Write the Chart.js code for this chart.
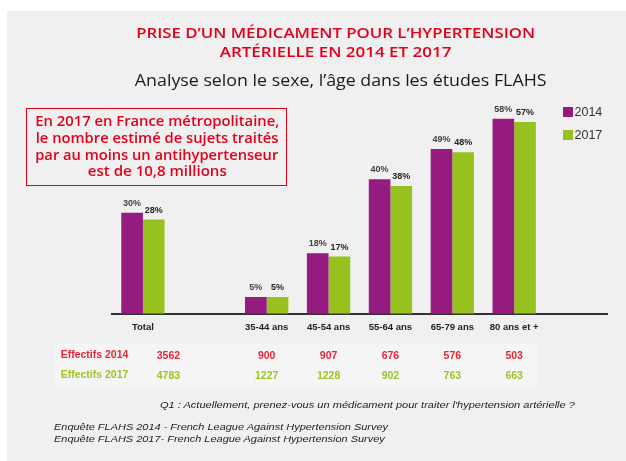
<!DOCTYPE html>
<html><head><meta charset="utf-8">
<script src="https://cdn.jsdelivr.net/npm/chart.js@4"></script>
<style>
html,body{margin:0;padding:0;background:#fff;width:626px;height:461px;overflow:hidden;position:relative;}
#panel{position:absolute;left:7px;top:11px;width:619px;height:450px;background:#f0f0f0;}
#tablebg{position:absolute;left:54px;top:344px;width:484px;height:43px;background:#f5f5f5;}
#box{position:absolute;left:26px;top:108px;width:259px;height:76px;border:1.6px solid #e3001b;}
#wrap{position:absolute;left:0;top:0;width:626px;height:461px;}
.t{position:absolute;white-space:nowrap;}
.sw{position:absolute;width:10px;height:10px;}
</style></head>
<body>
<div id="panel"></div>
<div id="tablebg"></div>
<div id="box"></div>
<div id="wrap"><canvas id="c"></canvas></div>
<script>
// ---- data ----
const categories = ["Total", "", "35-44 ans", "45-54 ans", "55-64 ans", "65-79 ans", "80 ans et +", ""];
const values2014 = [30, null, 5, 18, 40, 49, 58, null];
const values2017 = [28, null, 5, 17, 38, 48, 57, null];
const seriesNames = ["2014", "2017"];
const effectifsLabels = ["Effectifs 2014", "Effectifs 2017"];
const effectifs2014 = [3562, 900, 907, 676, 576, 503];
const effectifs2017 = [4783, 1227, 1228, 902, 763, 663];
const effectifsCats = ["Total", "35-44 ans", "45-54 ans", "55-64 ans", "65-79 ans", "80 ans et +"];
const titleLines = ["PRISE D\u2019UN M\u00c9DICAMENT POUR L\u2019HYPERTENSION", "ART\u00c9RIELLE EN 2014 ET 2017"];
const subtitle = "Analyse selon le sexe, l\u2019\u00e2ge dans les \u00e9tudes FLAHS";
const boxLines = ["En 2017 en France m\u00e9tropolitaine,", "le nombre estim\u00e9 de sujets trait\u00e9s", "par au moins un antihypertenseur", "est de 10,8 millions"];
const question = "Q1 : Actuellement, prenez-vous un m\u00e9dicament pour traiter l'hypertension art\u00e9rielle ?";
const sources = ["Enqu\u00eate FLAHS 2014 - French League Against Hypertension Survey", "Enqu\u00eate FLAHS 2017- French League Against Hypertension Survey"];

const PURPLE = '#951b81', GREEN = '#97c11f', RED = '#e3001b';

function addText(txt, o) {
  const d = document.createElement('div');
  d.className = 't';
  d.textContent = txt;
  d.style.font = `${o.style || 'normal'} ${o.weight || 400} ${o.size}px ${o.family || "'Liberation Sans', Arial, sans-serif"}`;
  d.style.lineHeight = o.size + 'px';
  d.style.color = o.color || '#222';
  d.style.top = (o.cy - o.size * (o.r || 0.5)) + 'px';
  document.body.appendChild(d);
  const w = d.getBoundingClientRect().width;
  const s = o.w ? o.w / w : 1;
  if (o.align === 'center') {
    d.style.left = (o.x - w / 2) + 'px';
    d.style.transformOrigin = 'center';
  } else {
    d.style.left = o.x + 'px';
    d.style.transformOrigin = 'left';
  }
  d.style.transform = `scaleX(${s})`;
  return d;
}

const valueLabels = {
  id: 'valueLabels',
  afterDatasetsDraw(chart) {
    const ctx = chart.ctx;
    ctx.save();
    ctx.font = "bold 9px 'Liberation Sans', Arial, sans-serif";
    ctx.textAlign = 'center';
    ctx.textBaseline = 'middle';
    chart.data.datasets.forEach((ds, i) => {
      const meta = chart.getDatasetMeta(i);
      ctx.fillStyle = i === 0 ? '#444' : '#222';
      meta.data.forEach((bar, j) => {
        const v = ds.data[j];
        if (v === null || v === undefined) return;
        ctx.fillText(v + '%', bar.x, bar.y - 9.5);
      });
    });
    ctx.restore();
  }
};

const chart = new Chart(document.getElementById('c'), {
  type: 'bar',
  data: {
    labels: categories,
    datasets: [
      { label: seriesNames[0], data: values2014, backgroundColor: PURPLE },
      { label: seriesNames[1], data: values2017, backgroundColor: GREEN }
    ]
  },
  options: {
    responsive: true,
    maintainAspectRatio: false,
    animation: false,
    datasets: { bar: { barPercentage: 1, categoryPercentage: 0.7 } },
    layout: { padding: { left: 112, right: 19, top: 112, bottom: 119.9 } },
    plugins: { legend: { display: false }, tooltip: { enabled: false }, title: { display: false } },
    scales: {
      x: {
        grid: { display: false, drawTicks: false },
        border: { display: true, color: '#333', width: 2 },
        ticks: { font: { family: "'Liberation Sans', Arial, sans-serif", size: 9.5, weight: 'bold' }, color: '#222', padding: 8, maxRotation: 0, autoSkip: false }
      },
      y: { display: false, min: 0, max: 60 }
    }
  },
  plugins: [valueLabels]
});

// titles
const OS = "'Open Sans', sans-serif";
addText(titleLines[0], { x: 335.5, cy: 33.3, size: 14, weight: 600, family: OS, color: RED, align: 'center', w: 399, r: 0.53 });
addText(titleLines[1], { x: 335.8, cy: 52.4, size: 14, weight: 600, family: OS, color: RED, align: 'center', w: 231.7, r: 0.53 });
addText(subtitle, { x: 340.8, cy: 80.5, size: 17, weight: 400, family: OS, color: '#1a1a1a', align: 'center', w: 411.7, r: 0.53 });

// red box text
const boxW = [244, 242.7, 243, 139];
boxLines.forEach((l, i) => addText(l, { x: 157, cy: 122.5 + i * 16.7, size: 13.5, weight: 600, family: OS, color: RED, align: 'center', w: boxW[i], r: 0.53 }));

// legend
[PURPLE, GREEN].forEach((col, i) => {
  const s = document.createElement('div');
  s.className = 'sw';
  s.style.left = '563px';
  s.style.top = (107.3 + i * 22.7) + 'px';
  s.style.background = col;
  document.body.appendChild(s);
  addText(chart.data.datasets[i].label, { x: 574.5, cy: 112.2 + i * 22.7, size: 12.5, color: '#333' });
});

// effectifs table
const xs = chart.scales.x;
const colX = effectifsCats.map(c => c === 'Total' ? xs.getPixelForValue(0) + 25.5 : xs.getPixelForValue(categories.indexOf(c)));
const TRED = '#e5263a', TGREEN = '#9cc42a';
[effectifs2014, effectifs2017].forEach((row, r) => {
  const cy = 354.3 + r * 20;
  const col = r === 0 ? TRED : TGREEN;
  addText(effectifsLabels[r], { x: 60.7, cy: cy, size: 10.5, weight: 700, color: col });
  row.forEach((v, j) => addText(String(v), { x: colX[j], cy: cy + 1, size: 10.5, weight: 700, color: col, align: 'center' }));
});

// notes
addText(question, { x: 367.5, cy: 405, size: 9.5, style: 'italic', color: '#222', align: 'center', w: 415 });
addText(sources[0], { x: 54, cy: 426.7, size: 9.5, style: 'italic', color: '#222', w: 334 });
addText(sources[1], { x: 54, cy: 439, size: 9.5, style: 'italic', color: '#222', w: 330.8 });
</script>
</body></html>
